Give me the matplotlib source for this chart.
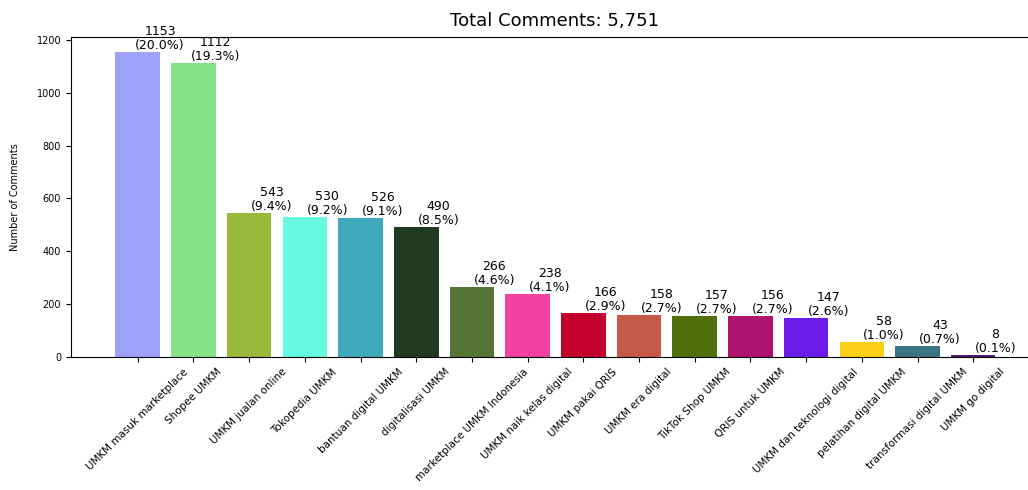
import matplotlib
matplotlib.use("Agg")
import matplotlib.pyplot as plt

keywords = [
    "UMKM masuk marketplace", "Shopee UMKM", "UMKM jualan online",
    "Tokopedia UMKM", "bantuan digital UMKM", "digitalisasi UMKM",
    "marketplace UMKM Indonesia", "UMKM naik kelas digital",
    "UMKM pakai QRIS", "UMKM era digital", "TikTok Shop UMKM",
    "QRIS untuk UMKM", "UMKM dan teknologi digital",
    "pelatihan digital UMKM", "transformasi digital UMKM", "UMKM go digital",
]
counts = [1153, 1112, 543, 530, 526, 490, 266, 238, 166, 158, 157, 156, 147, 58, 43, 8]
colors = [
    "#9da1f8", "#86e385", "#9ab83a", "#66fbe0", "#3faabb", "#213a1f",
    "#557535", "#f043a0", "#c3002c", "#c75948", "#4f700b", "#b0136d",
    "#6a1ceb", "#fdd018", "#3a7484", "#551a6a",
]

total = sum(counts)

fig = plt.figure(figsize=(10.28, 4.9), dpi=100)
ax = fig.add_axes([0.069, 0.2714, 0.94, 0.6531])

x = list(range(len(keywords)))
bars = ax.bar(x, counts, width=0.8, color=colors)

# jumlah + persentase di atas tiap bar
for bar, c in zip(bars, counts):
    ax.text(bar.get_x() + bar.get_width(), bar.get_height(),
            f"{c}\n({c / total * 100:.1f}%)",
            ha="center", va="bottom", fontsize=9, linespacing=1.1)

ax.set_xticks(x)
ax.set_xticklabels(keywords, rotation=45, ha="center", fontsize=7.5)
ax.tick_params(axis="y", labelsize=7)
ax.set_ylabel("Number of Comments", fontsize=7, labelpad=12)
ax.set_title(f"Total Comments: {total:,}", fontsize=13, pad=8)
ax.set_xlim(-1.2, 16.15)
ax.set_ylim(0, max(counts) * 1.05)

fig.savefig("out.png", dpi=100)
